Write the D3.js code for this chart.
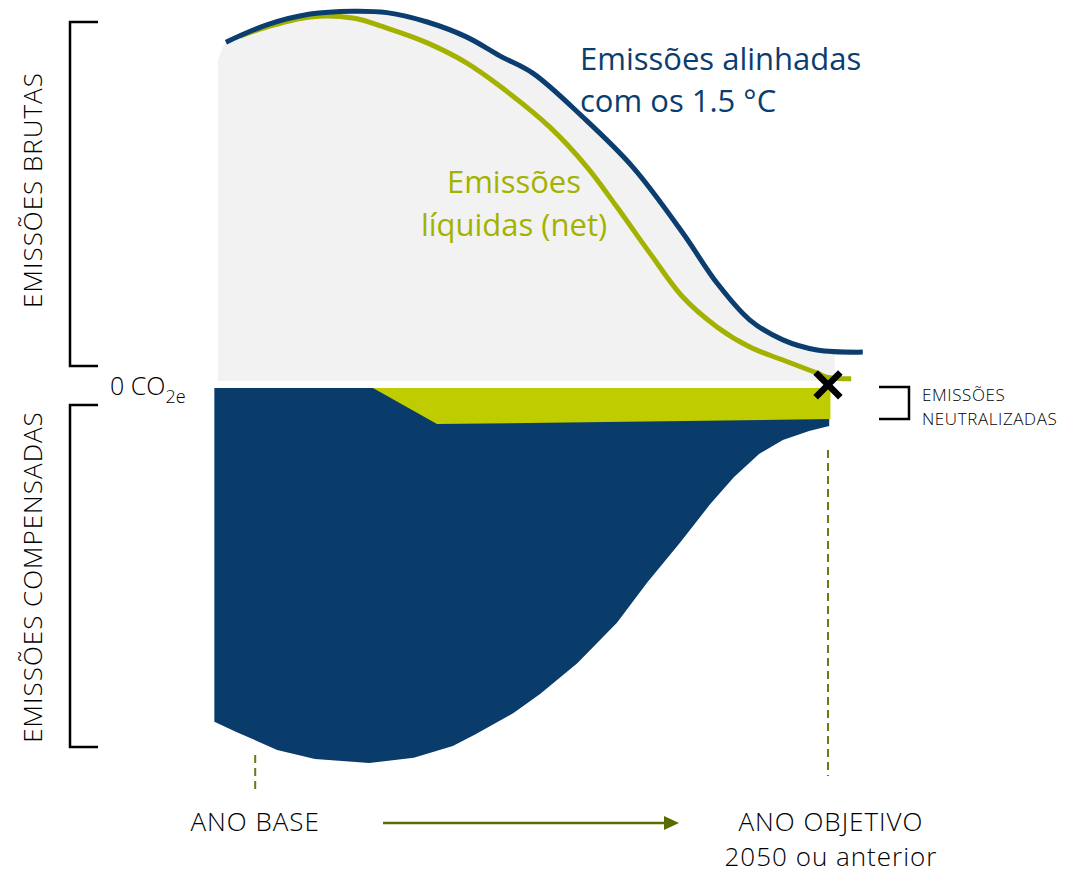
<!DOCTYPE html>
<html lang="pt">
<head>
  <meta charset="UTF-8">
  <title>Emissões brutas, compensadas e neutralizadas</title>
  <script src="https://d3js.org/d3.v7.min.js"></script>
  <style>
    body { margin: 0; background: #fff; }
    svg { display: block; font-family: "Open Sans", "Noto Sans", sans-serif; }
  </style>
</head>
<body>
<svg id="chart" width="1066" height="873"></svg>
<script>
  // t = tempo (0 = ano base, 100 = ano objetivo), v = emissões relativas
  const alinhadas15 = [
    [1.3, 94.4], [8.0, 99.2], [15.1, 102.2], [22.1, 103.0], [27.7, 102.6],
    [34.3, 100.0], [40.8, 95.8], [46.2, 90.6], [51.6, 85.8], [59.8, 73.6],
    [68.0, 59.7], [76.2, 41.4], [81.8, 27.5], [87.2, 17.2], [92.6, 11.7],
    [98.2, 8.9], [105.7, 8.3]
  ];
  // emissões brutas (área cinza) : começa no ano base, segue a curva 1.5 °C
  const brutas = [[0, 89.4]].concat(alinhadas15);
  const liquidas = [
    [3.6, 96.1], [8.0, 98.6], [15.1, 101.4], [22.1, 101.1], [27.7, 98.3],
    [34.3, 94.2], [40.8, 88.6], [46.2, 82.2], [54.4, 70.8], [60.5, 59.7],
    [65.4, 48.6], [70.8, 35.8], [76.2, 23.6], [81.8, 15.3], [87.2, 9.7],
    [92.6, 6.1], [98.2, 2.5], [100.0, 1.3], [103.8, 0.9]
  ];
  const compensadas = [
    [-0.6, -94.4], [3.0, -97.2], [9.7, -102.2], [15.9, -104.7], [24.8, -105.8],
    [32.1, -104.4], [38.5, -101.1], [42.3, -97.8], [48.5, -91.9], [52.8, -86.7],
    [58.9, -78.1], [65.4, -66.9], [70.3, -55.8], [75.7, -44.7], [80.7, -33.9],
    [84.6, -26.4], [88.7, -20.0], [92.6, -16.1], [96.9, -13.6], [100.2, -12.2]
  ];
  const neutralizadas = [[25.4, -1.7], [35.9, -11.7], [100.4, -10.3]];
  const topoNegativo = -1.7;   // pequeno espaço abaixo do zero
  const fimBrutas = 101.1;
  const anoBase = 6.1, anoObjetivo = 100;

  const svg = d3.select("#chart");
  const x = d3.scaleLinear().domain([0, 100]).range([218, 828]);
  const y = d3.scaleLinear().domain([-100, 100]).range([742, 22]);

  const defs = svg.append("defs");
  defs.append("clipPath").attr("id", "clipBrutas")
    .append("rect")
      .attr("x", x(0)).attr("y", 0)
      .attr("width", x(fimBrutas) - x(0)).attr("height", y(0) - 1);

  const curva = d3.curveCatmullRom.alpha(0.5);

  // Área cinza (emissões brutas)
  svg.append("path")
    .datum(brutas)
    .attr("clip-path", "url(#clipBrutas)")
    .attr("fill", "#f2f2f2")
    .attr("d", d3.area()
      .x(d => x(d[0])).y0(y(0)).y1(d => y(d[1]))
      .curve(d3.curveMonotoneX));

  // Área azul (emissões compensadas)
  svg.append("path")
    .datum(compensadas)
    .attr("fill", "#0a3c6b")
    .attr("d", d3.area()
      .x(d => x(d[0])).y0(y(topoNegativo)).y1(d => y(d[1])));

  // Faixa verde (emissões neutralizadas)
  svg.append("path")
    .datum(neutralizadas)
    .attr("fill", "#bfcc00")
    .attr("d", d3.area()
      .x(d => x(d[0])).y0(y(topoNegativo)).y1(d => y(d[1])));

  // Linhas
  svg.append("path")
    .datum(liquidas)
    .attr("fill", "none")
    .attr("stroke", "#a3b200")
    .attr("stroke-width", 5)
    .attr("d", d3.line().x(d => x(d[0])).y(d => y(d[1])).curve(curva));

  svg.append("path")
    .datum(alinhadas15)
    .attr("fill", "none")
    .attr("stroke", "#0b3d6e")
    .attr("stroke-width", 5)
    .attr("d", d3.line().x(d => x(d[0])).y(d => y(d[1])).curve(curva));

  // Marcador X no ano objetivo
  svg.append("path")
    .attr("transform", `translate(${x(anoObjetivo)},${y(-0.8)})`)
    .attr("d", d3.symbol(d3.symbolX, 400)())
    .attr("fill", "none")
    .attr("stroke", "#000")
    .attr("stroke-width", 6.5);

  // Linhas tracejadas
  svg.append("line")
    .attr("x1", x(anoBase)).attr("x2", x(anoBase))
    .attr("y1", 755).attr("y2", 791)
    .attr("stroke", "#6b7a12").attr("stroke-width", 2).attr("stroke-dasharray", "8,5");
  svg.append("line")
    .attr("x1", x(anoObjetivo)).attr("x2", x(anoObjetivo))
    .attr("y1", 450).attr("y2", 776)
    .attr("stroke", "#6b7a12").attr("stroke-width", 2).attr("stroke-dasharray", "8,5");

  // Colchetes à esquerda
  const bracket = (x0, y0, y1, w) =>
    `M${x0 + w},${y0}H${x0}V${y1}H${x0 + w}`;
  svg.append("path").attr("d", bracket(70, 22, 366, 28))
    .attr("fill", "none").attr("stroke", "#000").attr("stroke-width", 2.5);
  svg.append("path").attr("d", bracket(70, 405, 747, 28))
    .attr("fill", "none").attr("stroke", "#000").attr("stroke-width", 2.5);
  // colchete à direita
  svg.append("path").attr("d", "M879,387H909V419H879")
    .attr("fill", "none").attr("stroke", "#000").attr("stroke-width", 2.5);

  const txtCor = "#000";
  svg.append("text")
    .attr("transform", "translate(42,190) rotate(-90)")
    .attr("text-anchor", "middle").attr("font-size", 26).attr("font-weight", 300)
    .attr("letter-spacing", 1).attr("fill", txtCor).text("EMISSÕES BRUTAS");
  svg.append("text")
    .attr("transform", "translate(42,577) rotate(-90)")
    .attr("text-anchor", "middle").attr("font-size", 26).attr("font-weight", 300)
    .attr("letter-spacing", 1).attr("fill", txtCor).text("EMISSÕES COMPENSADAS");

  const zero = svg.append("text")
    .attr("x", 110).attr("y", 395).attr("font-size", 25).attr("font-weight", 300)
    .attr("fill", txtCor);
  zero.append("tspan").text("0 CO");
  zero.append("tspan").attr("dy", 8).attr("font-size", 18).text("2e");

  svg.append("text")
    .attr("x", 922).attr("y", 401).attr("font-size", 17).attr("font-weight", 300)
    .attr("letter-spacing", 0.6).attr("fill", txtCor).text("EMISSÕES");
  svg.append("text")
    .attr("x", 922).attr("y", 425).attr("font-size", 17).attr("font-weight", 300)
    .attr("letter-spacing", 0.6).attr("fill", txtCor).text("NEUTRALIZADAS");

  // Rótulos das séries
  const azul = svg.append("text").attr("font-size", 31).attr("fill", "#0b3d6e");
  azul.append("tspan").attr("x", 580).attr("y", 70).text("Emissões alinhadas");
  azul.append("tspan").attr("x", 580).attr("y", 112).text("com os 1.5 °C");

  const verde = svg.append("text").attr("font-size", 31).attr("fill", "#a3b200")
    .attr("text-anchor", "middle");
  verde.append("tspan").attr("x", 514).attr("y", 193).text("Emissões");
  verde.append("tspan").attr("x", 514).attr("y", 236).text("líquidas (net)");

  // Eixo temporal
  svg.append("text")
    .attr("x", x(anoBase)).attr("y", 831).attr("text-anchor", "middle")
    .attr("font-size", 26).attr("font-weight", 300).attr("letter-spacing", 1)
    .attr("fill", txtCor).text("ANO BASE");
  const obj = svg.append("text").attr("text-anchor", "middle")
    .attr("font-size", 26).attr("font-weight", 300).attr("letter-spacing", 1)
    .attr("fill", txtCor);
  obj.append("tspan").attr("x", x(anoObjetivo) + 3).attr("y", 831).text("ANO OBJETIVO");
  obj.append("tspan").attr("x", x(anoObjetivo) + 3).attr("y", 866).text("2050 ou anterior");

  svg.append("line")
    .attr("x1", 383).attr("x2", 666).attr("y1", 823).attr("y2", 823)
    .attr("stroke", "#5b6b00").attr("stroke-width", 2.5);
  svg.append("path")
    .attr("d", "M664,816L679,823L664,830Z")
    .attr("fill", "#5b6b00");
</script>
</body>
</html>
